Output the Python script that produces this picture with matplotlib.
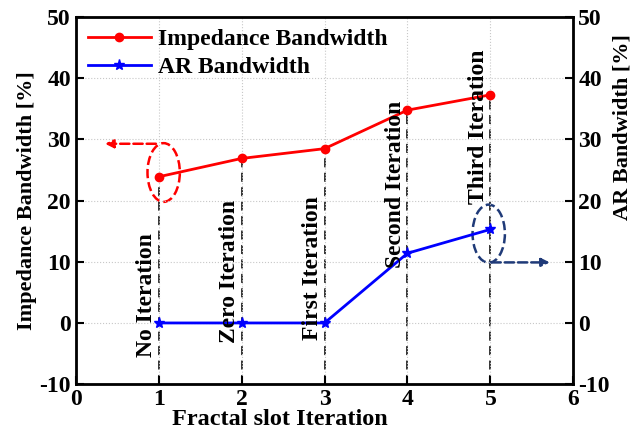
import matplotlib.pyplot as plt
from matplotlib.patches import Ellipse

# data
iterations = [1, 2, 3, 4, 5]
impedance_bw = [23.9, 26.9, 28.5, 34.8, 37.3]
ar_bw = [0, 0, 0, 11.4, 15.3]
labels = ["No Iteration", "Zero Iteration", "First Iteration",
          "Second Iteration", "Third Iteration"]
label_bottom = [-5.6, -3.2, -2.8, 9.0, 19.5]

plt.rcParams['font.family'] = ['Liberation Serif', 'DejaVu Serif']
plt.rcParams['font.weight'] = 'bold'
plt.rcParams['axes.unicode_minus'] = False

fig = plt.figure(figsize=(6.42, 4.4), dpi=100)
ax = fig.add_axes([0.118, 0.127, 0.775, 0.834])

ax.plot(iterations, impedance_bw, color='red', marker='o', markersize=6,
        lw=2, label='Impedance Bandwidth')
ax.plot(iterations, ar_bw, color='blue', marker='*', markersize=8,
        lw=2, label='AR Bandwidth')

# dashed drop lines
for x, y in zip(iterations, impedance_bw):
    ax.plot([x, x], [-10, y], color='#222222', ls=(0, (5, 3)), lw=1.3, zorder=1)

# iteration names
for x, txt, yb in zip(iterations, labels, label_bottom):
    ax.text(x - 0.02, yb, txt, rotation=90, ha='right', va='bottom',
            fontsize=17, fontweight='bold')

# ellipses and arrows
ax.add_patch(Ellipse((1.06, 24.6), 0.39, 9.6, fill=False, ec='red',
                     ls='--', lw=1.8))
ax.annotate('', xy=(0.32, 29.3), xytext=(1.0, 29.3),
            arrowprops=dict(arrowstyle='-|>', color='red', ls='--', lw=1.8,
                            mutation_scale=12))
ax.add_patch(Ellipse((4.98, 14.6), 0.39, 9.5, fill=False, ec='#1f3a78',
                     ls='--', lw=1.8))
ax.annotate('', xy=(5.75, 9.9), xytext=(4.98, 9.9),
            arrowprops=dict(arrowstyle='-|>', color='#1f3a78', ls='--', lw=1.8,
                            mutation_scale=12))

ax.set_xlim(0, 6)
ax.set_ylim(-10, 50)
ax.set_xticks(range(0, 7))
ax.set_yticks(range(-10, 51, 10))
ax.grid(True, ls=':', color='#c8c8c8', lw=0.8)
ax.tick_params(direction='in', labelsize=17, width=1.5, length=6)
for lab in ax.get_xticklabels() + ax.get_yticklabels():
    lab.set_fontweight('bold')
for sp in ax.spines.values():
    sp.set_linewidth(2)

ax.set_xlabel('Fractal slot Iteration', fontsize=17.5, fontweight='bold',
              labelpad=-1, x=0.41)
ax.set_ylabel('Impedance Bandwidth [%]', fontsize=16, fontweight='bold', labelpad=2)

ax2 = ax.twinx()
ax2.set_ylim(-10, 50)
ax2.set_yticks(range(-10, 51, 10))
ax2.tick_params(direction='in', labelsize=17, width=1.5, length=6)
for lab in ax2.get_yticklabels():
    lab.set_fontweight('bold')
ax2.set_ylabel('AR Bandwidth [%]', fontsize=16, fontweight='bold', labelpad=2,
               y=0.70)

ax.legend(loc='upper left', frameon=False, fontsize=17, handlelength=2.7,
          borderaxespad=0.1, labelspacing=0.25, handletextpad=0.3)

fig.savefig('out.png', dpi=100)
